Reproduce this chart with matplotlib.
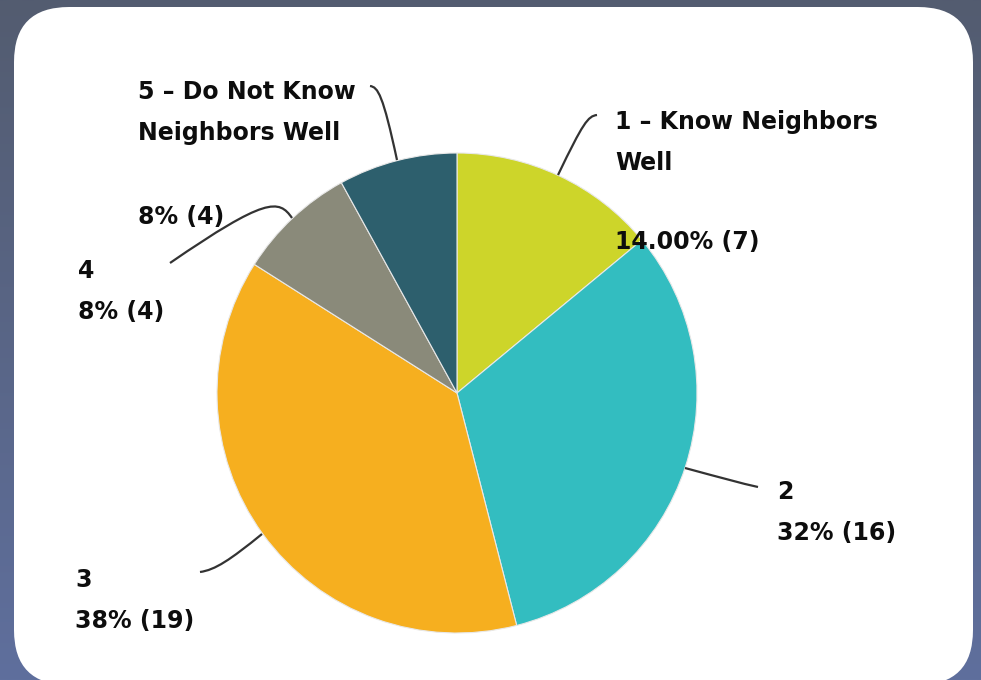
import numpy as np
import matplotlib.pyplot as plt
from matplotlib.patches import FancyBboxPatch
from matplotlib.path import Path
from matplotlib.patches import PathPatch

# survey answers: how well do you know your neighbours
labels = ["1 - Know Neighbors\nWell", "2", "3", "4", "5 - Do Not Know\nNeighbors Well"]
counts = [7, 16, 19, 4, 4]
pct_text = ["14.00% (7)", "32% (16)", "38% (19)", "8% (4)", "8% (4)"]
colors = ["#CDD52A", "#33BDC0", "#F6AF1F", "#8A8A7A", "#2D5F6D"]

W, H = 981, 680


def px(x, y):
    # pixel position (origin top-left) -> data coords
    return (x, H - y)


fig = plt.figure(figsize=(9.81, 6.80), dpi=100)
ax = fig.add_axes([0, 0, 1, 1])
ax.set_xlim(0, W)
ax.set_ylim(0, H)
ax.set_aspect("equal")
ax.axis("off")

# dark gradient behind the card
grad = np.linspace(0, 1, 256).reshape(-1, 1)
top = np.array([0x53, 0x5C, 0x70]) / 255
bot = np.array([0x5F, 0x6F, 0x9D]) / 255
img = top + (bot - top) * grad[:, :, None]
ax.imshow(img, extent=[0, W, 0, H], origin="upper", aspect="auto", zorder=0)

card = FancyBboxPatch(px(14 + 55, 685 - 55), 973 - 14 - 110, 685 - 7 - 110,
                      boxstyle="round,pad=55", fc="white", ec="none", zorder=1)
ax.add_patch(card)

wedges, _ = ax.pie(counts, colors=colors, startangle=90, counterclock=False,
                   center=px(457, 393), radius=240, frame=True,
                   wedgeprops=dict(edgecolor="#e8e8e8", linewidth=0.8))
for w in wedges:
    w.set_zorder(2)
ax.set_xlim(0, W)
ax.set_ylim(0, H)
ax.axis("off")

# curved leader lines (start, control, ... , end)
leaders = [
    [(558, 175), (583, 123), (588, 116), (597, 115)],
    [(685, 468), (722, 478), (740, 483), (758, 487)],
    [(262, 534), (230, 560), (215, 570), (200, 572)],
    [(292, 218), (279, 199), (266, 197), (170, 263)],
    [(397, 160), (383, 95), (378, 87), (370, 86)],
]
for pts in leaders:
    verts = [px(*p) for p in pts]
    path = Path(verts, [Path.MOVETO, Path.CURVE4, Path.CURVE4, Path.CURVE4])
    ax.add_patch(PathPatch(path, fc="none", ec="#333333", lw=1.6, zorder=3))

fs = 17
tk = dict(fontsize=fs, fontweight="bold", color="#0d0d0d", zorder=4,
          va="top", ha="left", linespacing=1.87)

ax.text(*px(615, 110), labels[0].replace("-", "–"), **tk)
ax.text(*px(615, 230), pct_text[0], **tk)
ax.text(*px(777, 480), labels[1] + "\n" + pct_text[1], **tk)
ax.text(*px(75, 568), labels[2] + "\n" + pct_text[2], **tk)
ax.text(*px(78, 259), labels[3] + "\n" + pct_text[3], **tk)
ax.text(*px(138, 205), pct_text[4], **tk)
ax.text(*px(138, 80), labels[4].replace("-", "–"), **tk)

fig.savefig("out.png", dpi=100)
